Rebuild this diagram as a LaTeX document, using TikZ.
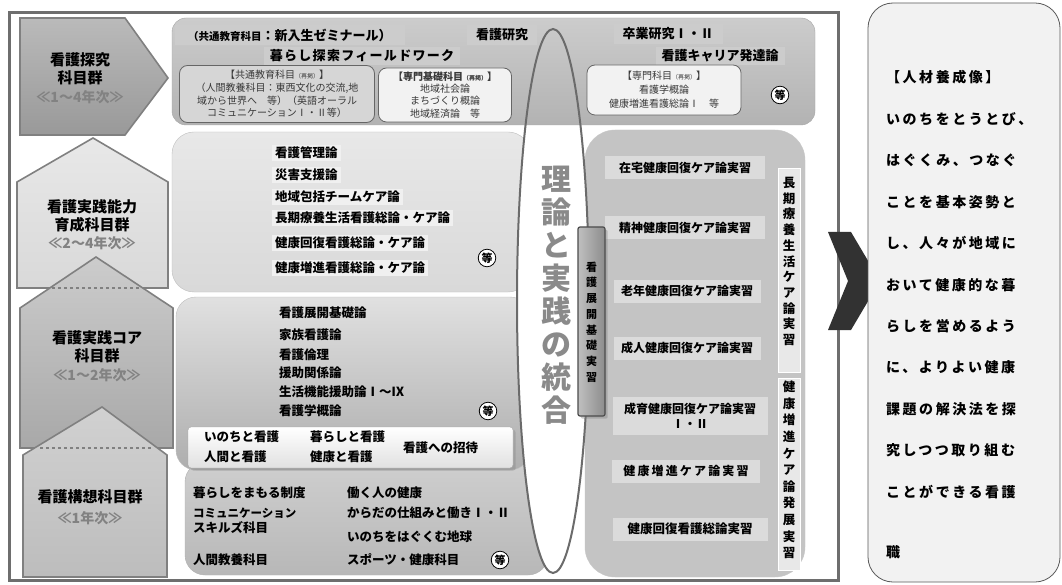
\documentclass[tikz,border=0pt]{standalone}
\usepackage{fontspec}
\setmainfont{Noto Sans CJK JP}
\newfontfamily\jpwide[LetterSpace=18]{Noto Sans CJK JP}
\newfontfamily\jpspaced[LetterSpace=10]{Noto Sans CJK JP}
\usepackage{tikz}
\usetikzlibrary{shapes,positioning,shadows}
\definecolor{framegray}{RGB}{110,110,110}
\definecolor{edgegray}{RGB}{128,128,128}
\definecolor{yeargray}{RGB}{130,130,130}
\definecolor{bigtxt}{RGB}{138,138,138}
\definecolor{chevgray}{RGB}{50,50,50}
\tikzstyle{grp} = [draw=edgegray, line width=1.6pt]
\tikzstyle{grplbl} = [font=\bfseries\fontsize{15}{18}\selectfont, align=center, inner sep=0pt]
\tikzstyle{grpyr} = [text=yeargray, font=\bfseries\fontsize{14}{16}\selectfont, inner sep=0pt]
\tikzstyle{band} = [fill=black!20, inner xsep=6pt, inner ysep=3pt, font=\bfseries\fontsize{13}{15}\selectfont]
\tikzstyle{subbox} = [draw=black!60, line width=0.8pt, rounded corners=8pt, align=center, text=black!78]
\tikzstyle{subj} = [anchor=west, inner xsep=3pt, inner ysep=2pt, text height=10.5pt, text depth=2pt, font=\bfseries\fontsize{12.5}{14}\selectfont]
\tikzstyle{etc} = [circle, draw=black, fill=white, line width=0.8pt, inner sep=0.8pt, font=\bfseries\fontsize{11}{11}\selectfont]
\tikzstyle{prac} = [fill=black!14, inner sep=2pt, minimum height=23pt, font=\bfseries\fontsize{12}{14}\selectfont, align=center]
\tikzstyle{vband} = [fill=black!9, draw=white, minimum width=22pt]
\tikzstyle{vtxt} = [align=center, inner sep=0pt]
\tikzstyle{creed} = [inner sep=0pt, text height=12pt, text depth=2pt, font=\jpwide\bfseries\fontsize{14}{14}\selectfont]

\begin{document}
\begin{tikzpicture}[x=1pt, y=-1pt]
\useasboundingbox (0,0) rectangle (1062,585);

% outer frame =============================
\draw[framegray, line width=3pt, fill=white] (9,13) rectangle (838,580);

% course groups ===========================

% 看護探究
\draw[grp, top color=black!27, bottom color=black!40] (20,18) -- (125,18) -- (168,78) -- (125,135) -- (20,135) -- cycle;
\node[grplbl] (tankyu) at (80,69) {看護探究\\科目群};
\node[grpyr] (tankyuyr) at (80,97) {≪1～4年次≫};

% 看護実践能力
\draw[grp, top color=black!9, bottom color=black!15] (93,138) -- (168,182) -- (168,288) -- (17,288) -- (17,182) -- cycle;
\node[grplbl] (noryoku) at (92,216) {看護実践能力\\育成科目群};
\node[grpyr] (noryokuyr) at (92,243) {≪2～4年次≫};

% 看護実践コア
\draw[grp, top color=black!20, bottom color=black!34] (96,257) -- (173,308) -- (173,448) -- (20,448) -- (20,308) -- cycle;
\draw[edgegray, line width=1.6pt, dashed] (52,288) -- (141,288);
\node[grplbl] (core) at (97,347) {看護実践コア\\科目群};
\node[grpyr] (coreyr) at (97,375) {≪1～2年次≫};

% 看護構想
\draw[grp, top color=black!18, bottom color=black!26] (102,407) -- (167,455) -- (167,577) -- (23,577) -- (23,455) -- cycle;
\draw[edgegray, line width=1.6pt, dashed] (40,448) -- (153,448);
\node[grplbl] (koso) at (90,497) {看護構想科目群};
\node[grpyr] (kosoyr) at (90,518) {≪1年次≫};

% subject boxes ===========================

% 看護実践能力 subjects
\draw[draw=black!25, top color=black!9, bottom color=black!15, rounded corners=22pt] (172,132) rectangle (530,292);
\node[subj, fill=black!6] (kanri) at (272,153) {看護管理論};
\node[subj, fill=black!6] (saigai) at (272,175) {災害支援論};
\node[subj, fill=black!6] (chiiki) at (272,197) {地域包括チームケア論};
\node[subj, fill=black!6] (choki) at (272,218) {長期療養生活看護総論・ケア論};
\node[subj, fill=black!6] (kaifuku) at (272,243) {健康回復看護総論・ケア論};
\node[subj, fill=black!6] (zoshin) at (272,268) {健康増進看護総論・ケア論};
\node[etc] (etc2) at (487,258) {等};

% 看護構想 subjects
\draw[draw=black!30, top color=black!19, bottom color=black!28, rounded corners=20pt] (185,462) rectangle (548,575);
\node[subj] (seido) at (190,493) {暮らしをまもる制度};
\node[subj, font=\bfseries\fontsize{11.5}{13}\selectfont] (comm) at (190,513) {コミュニケーション};
\node[subj] (skill) at (190,528) {スキルズ科目};
\node[subj] (kyoyo) at (190,560) {人間教養科目};
\node[subj] (hataraku) at (344,493) {働く人の健康};
\node[subj] (karada) at (344,513) {からだの仕組みと働きⅠ・Ⅱ};
\node[subj] (chikyu) at (344,537) {いのちをはぐくむ地球};
\node[subj] (sports) at (344,560) {スポーツ・健康科目};
\node[etc] (etc4) at (500,560) {等};

% 看護実践コア subjects
\draw[draw=black!25, top color=black!12, bottom color=black!32, rounded corners=20pt] (176,297) rectangle (530,470);
\node[subj] (tenkai) at (276,313) {看護展開基礎論};
\node[subj] (kazoku) at (276,335) {家族看護論};
\node[subj] (rinri) at (276,355) {看護倫理};
\node[subj] (enjo) at (276,373) {援助関係論};
\node[subj] (seikatsu) at (276,392) {生活機能援助論Ⅰ～Ⅸ};
\node[subj] (gairon) at (276,411) {看護学概論};
\node[etc] (etc3) at (488,411) {等};

% introductory subjects
\draw[draw=black!35, top color=white, bottom color=black!12, rounded corners=3pt, drop shadow={opacity=0.35}] (188,427) rectangle (513,468);
\node[subj] (inochi) at (201,437) {いのちと看護};
\node[subj] (ningen) at (201,457) {人間と看護};
\node[subj] (kurashi) at (307,437) {暮らしと看護};
\node[subj] (kenko) at (307,457) {健康と看護};
\node[subj] (shotai) at (400,448) {看護への招待};

% practicum box ===========================
\draw[draw=black!22, fill=black!23, rounded corners=30pt] (585,130) rectangle (805,577);
\node[prac, minimum width=160pt] (zaitaku) at (685,168) {在宅健康回復ケア論実習};
\node[prac, minimum width=160pt] (seishin) at (685,228) {精神健康回復ケア論実習};
\node[prac, minimum width=147pt] (ronen) at (687,291) {老年健康回復ケア論実習};
\node[prac, minimum width=147pt] (seijin) at (687,348) {成人健康回復ケア論実習};
\node[prac, minimum width=155pt, minimum height=38pt, font=\bfseries\fontsize{12}{15}\selectfont] (seiiku) at (690,416) {成育健康回復ケア論実習\\Ⅰ・Ⅱ};
\node[prac, minimum width=148pt, font=\jpwide\bfseries\fontsize{12}{14}\selectfont] (zoshinjs) at (686,471) {健康増進ケア論実習};
\node[prac, minimum width=155pt, font=\bfseries\fontsize{12.5}{14}\selectfont] (kaifukujs) at (690,529) {健康回復看護総論実習};

\node[vband, minimum height=204pt] (chokiband) at (789,270) {};
\node[vtxt, font=\bfseries\fontsize{12.5}{15.7}\selectfont] (chokitxt) at (789,261.5) {長\\期\\療\\養\\生\\活\\ケ\\ア\\論\\実\\習};
\node[vband, minimum height=192pt] (hattenband) at (789,474) {};
\node[vtxt, font=\bfseries\fontsize{12.5}{16.6}\selectfont] (hattentxt) at (789,470) {健\\康\\増\\進\\ケ\\ア\\論\\発\\展\\実\\習};

% integration ellipse =====================
\fill[white] (553,301) ellipse [x radius=36, y radius=272];

% 看護探究 subjects
\draw[draw=black!35, top color=black!20, bottom color=black!30, rounded corners=14pt] (172,18) rectangle (815,125);
\node[band, anchor=west, inner xsep=13pt, inner ysep=4pt] (seminar) at (175,35) {{\fontsize{10.5}{12}\selectfont（共通教育科目}：新入生ゼミナール）};
\node[band, inner xsep=9pt, inner ysep=4pt] (kenkyu) at (502,35) {看護研究};
\node[band, inner xsep=9pt, inner ysep=4pt] (sotsuken) at (668,34) {卒業研究Ⅰ・Ⅱ};
\node[band, font=\jpspaced\bfseries\fontsize{13}{15}\selectfont] (fieldwork) at (362,56) {暮らし探索フィールドワーク};
\node[band] (career) at (720,56) {看護キャリア発達論};
\node[subbox, fill=black!16, minimum width=195pt, minimum height=57pt, font=\fontsize{10}{12.8}\selectfont] (kyotsu) at (277,94) {【共通教育科目{\fontsize{6}{6}\selectfont（再掲）}】\\（人間教養科目：東西文化の交流,地\\域から世界へ　等）（英語オーラル\\コミュニケーションⅠ・Ⅱ等）};
\node[subbox, fill=black!5, minimum width=133pt, minimum height=54pt, font=\fontsize{10}{12.3}\selectfont] (kiso) at (445,95) {{\bfseries【専門基礎科目{\fontsize{6}{6}\selectfont（再掲）}】}\\地域社会論\\まちづくり概論\\地域経済論　等};
\node[subbox, fill=black!5, minimum width=154pt, minimum height=50pt, font=\fontsize{10}{14}\selectfont] (senmon) at (664,90) {【専門科目{\fontsize{6}{6}\selectfont（再掲）}】\\看護学概論\\健康増進看護総論Ⅰ　等};
\node[etc] (etc1) at (780,95) {等};

\draw[draw=black!58, line width=2pt] (553,301) ellipse [x radius=36, y radius=272];
\node[vtxt, text=bigtxt, font=\bfseries\fontsize{30}{33}\selectfont] (togo) at (556,295) {理\\論\\と\\実\\践\\の\\統\\合};

% 看護展開基礎実習
\node[draw=black!70, line width=1.2pt, left color=black!25, right color=black!45, rounded corners=2pt, minimum width=27pt, minimum height=189pt, drop shadow={opacity=0.4}] (kisobar) at (591.5,321.5) {};
\node[vtxt, font=\bfseries\fontsize{11}{15.7}\selectfont] (kisotxt) at (591.5,322) {看\\護\\展\\開\\基\\礎\\実\\習};

% arrow to goal ===========================
\fill[chevgray] (828,232) -- (851,232) -- (880,281) -- (851,330) -- (828,330) -- (848,281) -- cycle;

% goal box ================================
\draw[draw=black!65, fill=black!5, line width=0.8pt, rounded corners=25pt] (868,3) rectangle (1060,582);
\node[creed, anchor=west] (p1) at (886,78) {【人材養成像】};
\node[creed, below=27pt of p1.south west, anchor=north west] (p2) {いのちをとうとび、};
\node[creed, below=27pt of p2.south west, anchor=north west] (p3) {はぐくみ、つなぐ};
\node[creed, below=27pt of p3.south west, anchor=north west] (p4) {ことを基本姿勢と};
\node[creed, below=27pt of p4.south west, anchor=north west] (p5) {し、人々が地域に};
\node[creed, below=27pt of p5.south west, anchor=north west] (p6) {おいて健康的な暮};
\node[creed, below=27pt of p6.south west, anchor=north west] (p7) {らしを営めるよう};
\node[creed, below=27pt of p7.south west, anchor=north west] (p8) {に、よりよい健康};
\node[creed, below=27pt of p8.south west, anchor=north west] (p9) {課題の解決法を探};
\node[creed, below=27pt of p9.south west, anchor=north west] (p10) {究しつつ取り組む};
\node[creed, below=27pt of p10.south west, anchor=north west] (p11) {ことができる看護};
\node[creed, below=46pt of p11.south west, anchor=north west] (p12) {職};

\end{tikzpicture}
\end{document}
